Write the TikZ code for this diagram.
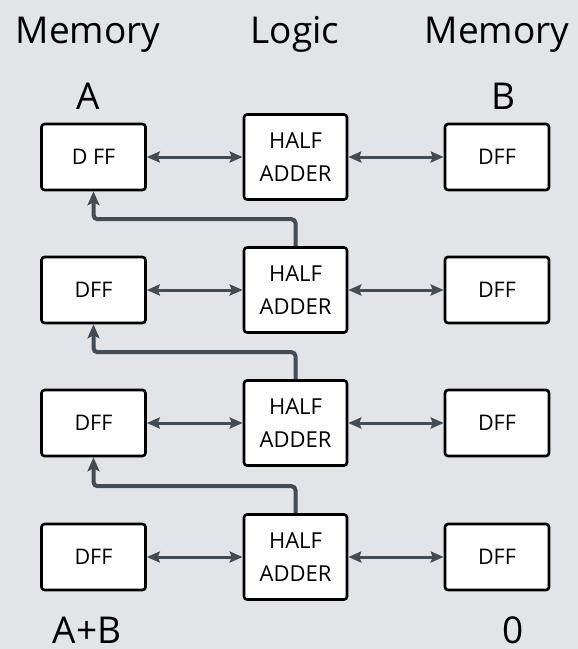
\documentclass[tikz,border=0pt]{standalone}
\usepackage{fontspec}
\setmainfont{Open Sans}
\usetikzlibrary{arrows.meta}
\usetikzlibrary{positioning}
\definecolor{bg}{HTML}{E3E4E8}
\definecolor{wire}{HTML}{434B55}
\tikzset{dff/.style = {draw, fill=white, line width=2.6, rounded corners=3, minimum width=104, minimum height=66, inner sep=0, font=\fontsize{21.5}{25}\selectfont}}
\tikzset{adder/.style = {dff, minimum width=103, minimum height=85, align=center, font=\fontsize{22}{33}\selectfont}}
\tikzset{title/.style = {anchor=base, inner sep=0, text depth=0, font=\fontsize{37}{44}\selectfont}}
\tikzset{link/.style = {draw=wire, line width=3, {Stealth[length=13, width=11, inset=2]}-{Stealth[length=13, width=11, inset=2]}}}
\tikzset{carry/.style = {draw=wire, line width=4, rounded corners=4, -{Stealth[length=14, width=12, inset=3]}}}

\begin{document}
\begin{tikzpicture}[x=1pt, y=-1pt]
      \fill [bg] (0, 0) rectangle (578, 649);
      \useasboundingbox (0, 0) rectangle (578, 649);

      \node [title] at (88, 43) (memleft) {Memory};
      \node [title] at (295, 43) (logic) {Logic};
      \node [title] at (497, 43) (memright) {Memory};

      \node [title] at (88, 109) (nameA) {A};
      \node [title] at (503, 109) (nameB) {B};
      \node [title] at (87, 643) (sum) {A+B};
      \node [title] at (513, 643) (zero) {0};

      \node [dff] at (93.5, 157) (dffA1) {D FF};
      \node [dff] at (93.5, 290) (dffA2) {DFF};
      \node [dff] at (93.5, 423) (dffA3) {DFF};
      \node [dff] at (93.5, 557) (dffA4) {DFF};

      \node [adder] at (295.5, 157) (ha1) {HALF\\ADDER};
      \node [adder] at (295.5, 290) (ha2) {HALF\\ADDER};
      \node [adder] at (295.5, 423) (ha3) {HALF\\ADDER};
      \node [adder] at (295.5, 557) (ha4) {HALF\\ADDER};

      \node [dff] at (497, 157) (dffB1) {DFF};
      \node [dff] at (497, 290) (dffB2) {DFF};
      \node [dff] at (497, 423) (dffB3) {DFF};
      \node [dff] at (497, 557) (dffB4) {DFF};

      \draw [link] (dffA1) -- (ha1);
      \draw [link] (dffA2) -- (ha2);
      \draw [link] (dffA3) -- (ha3);
      \draw [link] (dffA4) -- (ha4);
      \draw [link] (ha1) -- (dffB1);
      \draw [link] (ha2) -- (dffB2);
      \draw [link] (ha3) -- (dffB3);
      \draw [link] (ha4) -- (dffB4);

      \draw [carry] (ha2.north) -- ++(0, -27) -| (dffA1.south);
      \draw [carry] (ha3.north) -- ++(0, -27) -| (dffA2.south);
      \draw [carry] (ha4.north) -- ++(0, -27) -| (dffA3.south);
    \end{tikzpicture}
\end{document}
